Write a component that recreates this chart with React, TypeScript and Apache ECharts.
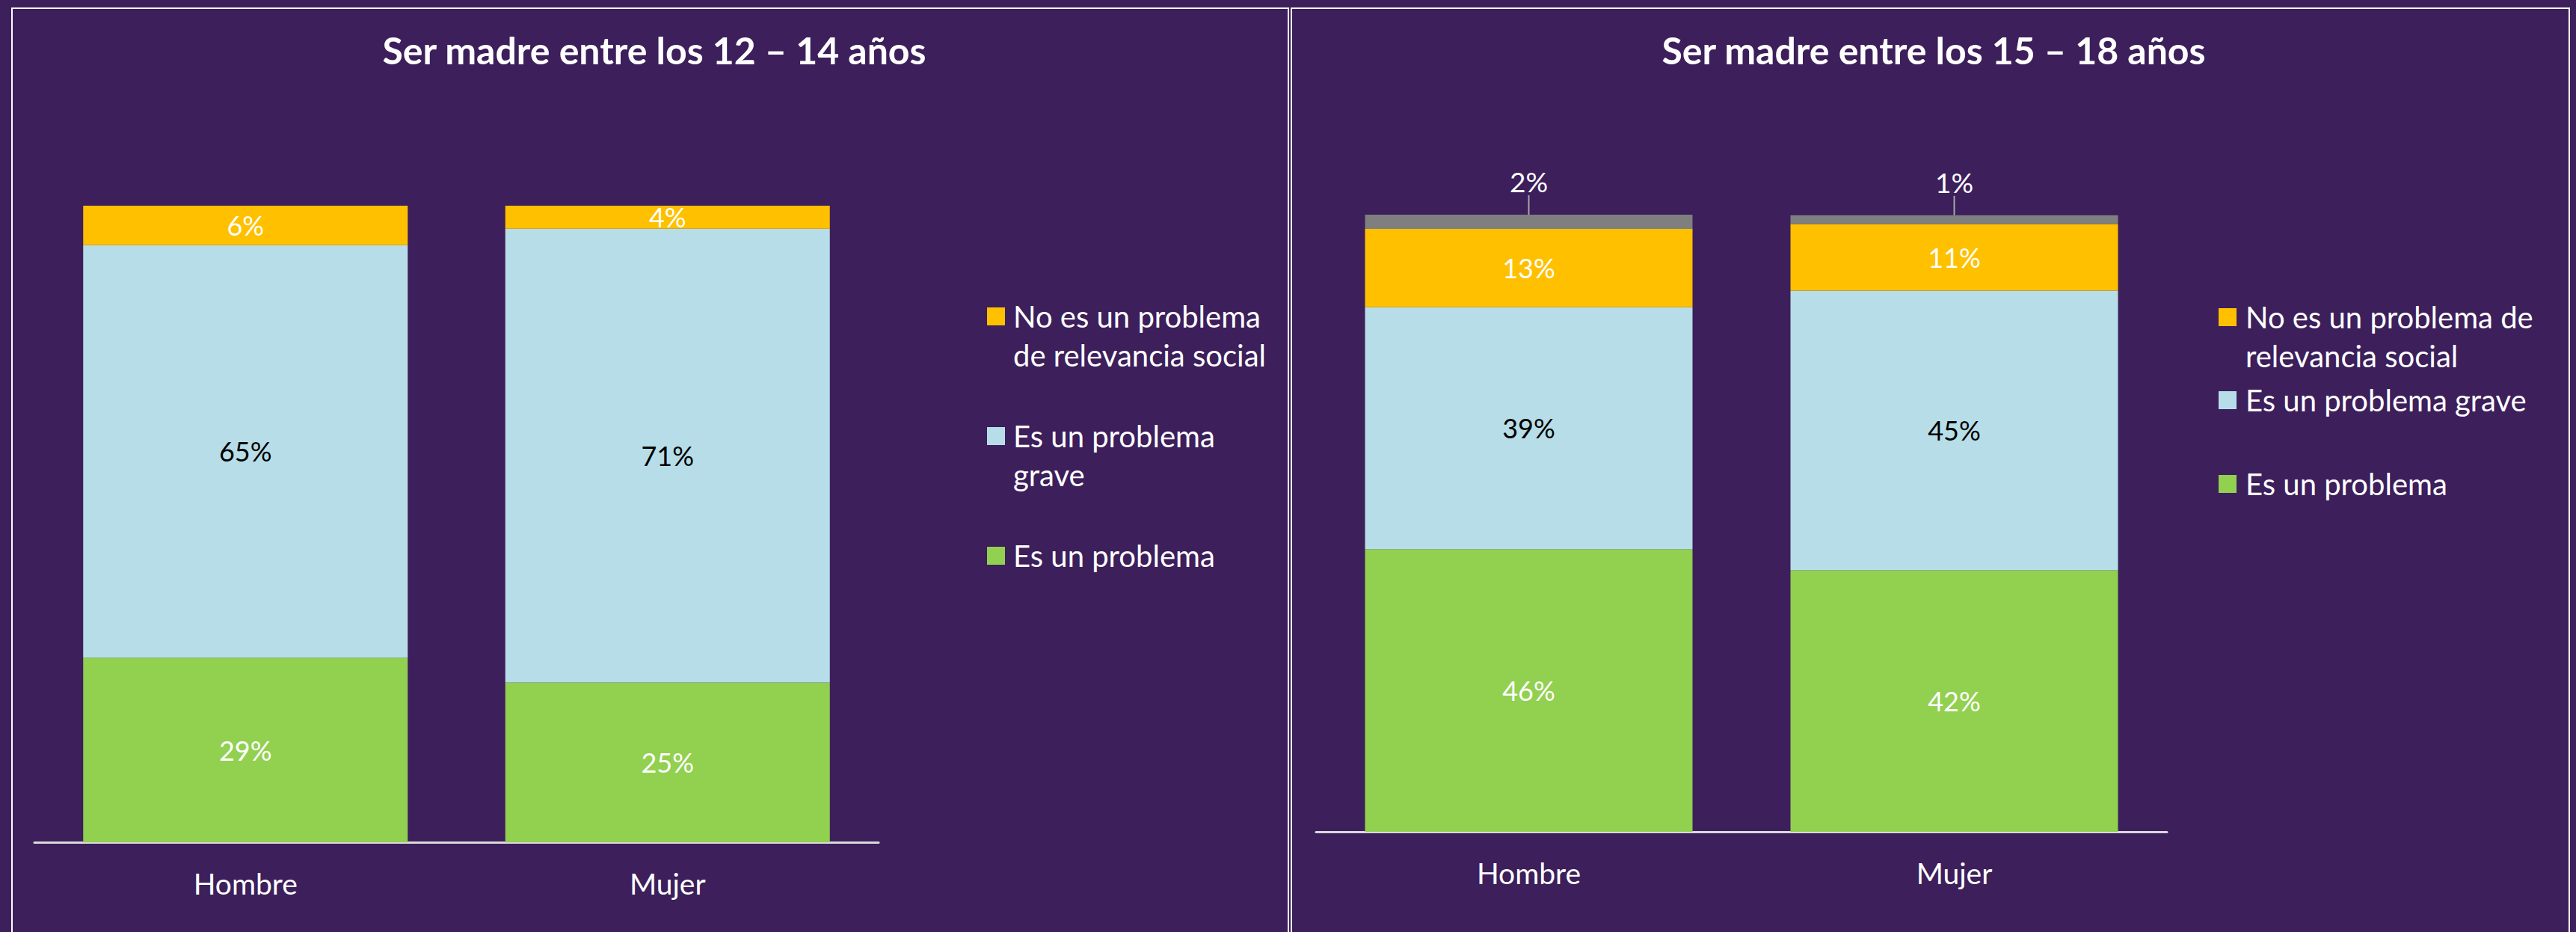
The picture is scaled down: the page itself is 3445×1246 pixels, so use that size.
import React, { useEffect, useRef } from "react";
import * as echarts from "echarts";

// ---- data ----
const categories = ["Hombre", "Mujer"];
const titles = ["Ser madre entre los 12 – 14 años", "Ser madre entre los 15 – 18 años"];
const seriesNames = ["Es un problema", "Es un problema grave", "No es un problema de relevancia social", "No sabe"];
const colors = ["#92D050", "#B7DEE8", "#FFC000", "#7F7F7F"];
const labelColors = ["#FFFFFF", "#000000", "#FFFFFF", "#FFFFFF"];

// Chart 1: 12 – 14 años
const young_problema = [29.0, 25.1];
const young_grave = [64.8, 71.3];
const young_noRelevancia = [6.2, 3.6];

// Chart 2: 15 – 18 años
const teen_problema = [45.8, 42.4];
const teen_grave = [39.2, 45.3];
const teen_noRelevancia = [12.7, 10.8];
const teen_noSabe = [2.3, 1.4];

// legend texts (top to bottom), as wrapped in each panel
const legendLeft = ["No es un problema\nde relevancia social", "Es un problema\ngrave", "Es un problema"];
const legendRight = ["No es un problema de\nrelevancia social", "Es un problema grave", "Es un problema"];
const legendColorIdx = [2, 1, 0];

const PURPLE = "#3C1F5B";
const FONT = "Lato, 'Open Sans', sans-serif";

export default function App() {
  const ref = useRef<HTMLDivElement>(null);

  useEffect(() => {
    document.body.style.margin = "0";
    document.body.style.background = PURPLE;
    if (!ref.current) return;
    const chart = echarts.init(ref.current, undefined, { renderer: "svg" });

    const fmt = (p: any) => Math.round(p.value) + "%";

    const mkSeries = (
      data: number[],
      idx: number,
      axis: number,
      stack: string,
      barWidth: number,
      extra: any = {}
    ) => ({
      type: "bar",
      name: seriesNames[idx],
      data,
      stack,
      xAxisIndex: axis,
      yAxisIndex: axis,
      barWidth,
      itemStyle: { color: colors[idx] },
      label: {
        show: true,
        position: "inside",
        formatter: fmt,
        color: labelColors[idx],
        fontSize: 36,
        fontFamily: FONT,
      },
      ...extra,
    });

    const series: any[] = [
      mkSeries(young_problema, 0, 0, "a", 434),
      mkSeries(young_grave, 1, 0, "a", 434),
      mkSeries(young_noRelevancia, 2, 0, "a", 434),
      mkSeries(teen_problema, 0, 1, "b", 438),
      mkSeries(teen_grave, 1, 1, "b", 438),
      mkSeries(teen_noRelevancia, 2, 1, "b", 438),
      mkSeries(teen_noSabe, 3, 1, "b", 438, {
        label: {
          show: true,
          position: "top",
          distance: 8,
          formatter: fmt,
          color: "#FFFFFF",
          fontSize: 37,
          fontFamily: FONT,
        },
        labelLayout: { dy: -18 },
        labelLine: { show: true, lineStyle: { color: "#A6A6A6", width: 2 } },
      }),
    ];

    const legendGraphics: any[] = [];
    const buildLegend = (texts: string[], sqX: number, tops: number[], textX: number) => {
      texts.forEach((t, i) => {
        legendGraphics.push({
          type: "rect",
          shape: { x: sqX, y: tops[i], width: 24, height: 24 },
          style: { fill: colors[legendColorIdx[i]] },
          silent: true,
        });
        legendGraphics.push({
          type: "text",
          x: textX,
          y: tops[i] + 12 - 26,
          style: {
            text: t,
            fill: "#FFFFFF",
            fontSize: 40,
            fontFamily: FONT,
            lineHeight: 52,
            verticalAlign: "top",
          },
          silent: true,
        });
      });
    };
    buildLegend(legendLeft, 1320, [411, 571, 731], 1355);
    buildLegend(legendRight, 2967, [412, 523, 635], 3003);

    const axisCommon = {
      type: "category",
      data: categories,
      axisLine: { show: true, lineStyle: { color: "#D9D9D9", width: 3 } },
      axisTick: { show: false },
      axisLabel: { color: "#FFFFFF", fontSize: 39, fontFamily: FONT, margin: 35 },
    };
    const yCommon = {
      type: "value",
      min: 0,
      max: 100,
      show: false,
      splitLine: { show: false },
    };

    const titleStyle = { color: "#FFFFFF", fontSize: 50, fontWeight: "bold", fontFamily: FONT };

    chart.setOption({
      animation: false,
      backgroundColor: PURPLE,
      title: [
        { text: titles[0], left: 870, top: 37, textAlign: "center", textStyle: titleStyle },
        { text: titles[1], left: 2581, top: 37, textAlign: "center", textStyle: titleStyle },
      ],
      grid: [
        { left: 46, width: 1129, top: 275, bottom: 1246 - 1126 },
        { left: 1760, width: 1138, top: 287, bottom: 1246 - 1112 },
      ],
      xAxis: [
        { ...axisCommon, gridIndex: 0 },
        { ...axisCommon, gridIndex: 1 },
      ],
      yAxis: [
        { ...yCommon, gridIndex: 0 },
        { ...yCommon, gridIndex: 1 },
      ],
      series,
      graphic: [
        {
          type: "rect",
          shape: { x: 16, y: 11, width: 1707, height: 1300 },
          style: { fill: "none", stroke: "#FFFFFF", lineWidth: 2 },
          silent: true,
        },
        {
          type: "rect",
          shape: { x: 1727, y: 11, width: 1709, height: 1300 },
          style: { fill: "none", stroke: "#FFFFFF", lineWidth: 2 },
          silent: true,
        },
        ...legendGraphics,
      ],
    });

    return () => chart.dispose();
  }, []);

  return <div ref={ref} style={{ width: 3445, height: 1246, background: PURPLE }} />;
}
